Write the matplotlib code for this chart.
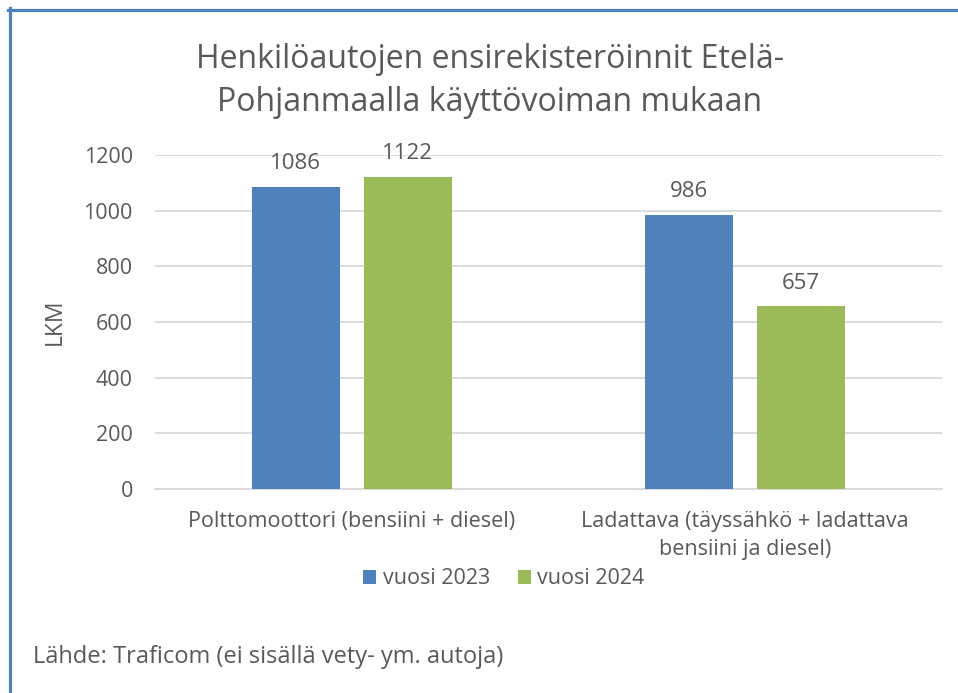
import matplotlib.pyplot as plt
import matplotlib.lines as mlines
import numpy as np

# --- data ---
categories = ['Polttomoottori (bensiini + diesel)',
              'Ladattava (täyssähkö + ladattava\nbensiini ja diesel)']
series_names = ['vuosi 2023', 'vuosi 2024']
vals_2023 = [1086, 986]
vals_2024 = [1122, 657]
yticks = [0, 200, 400, 600, 800, 1000, 1200]

BLUE = '#4F81BD'
GREEN = '#9BBB59'
GREY = '#595959'
FONT = 'Open Sans'

plt.rcParams['font.family'] = [FONT, 'DejaVu Sans']

fig = plt.figure(figsize=(9.58, 6.93), dpi=100)
ax = fig.add_axes([0.1618, 0.2944, 0.8215, 0.4819])

x = np.arange(len(categories))
w = 0.224
off = 0.142
b1 = ax.bar(x - off, vals_2023, w, color=BLUE, label=series_names[0], zorder=3)
b2 = ax.bar(x + off, vals_2024, w, color=GREEN, label=series_names[1], zorder=3)

for bars in (b1, b2):
    ax.bar_label(bars, padding=9, fontsize=16, color=GREY)

ax.set_xlim(-0.5, 1.5)
ax.set_ylim(0, 1200)
ax.set_yticks(yticks)
ax.set_xticks(x)
ax.set_xticklabels(categories, fontsize=15.5, color=GREY, linespacing=1.45)
ax.tick_params(axis='both', length=0, labelsize=15.5, colors=GREY)
ax.tick_params(axis='y', pad=16)
ax.tick_params(axis='x', pad=16)
ax.yaxis.grid(True, color='#D9D9D9', linewidth=1.3, zorder=0)
for s in ['top', 'right', 'left']:
    ax.spines[s].set_visible(False)
ax.spines['bottom'].set_color('#D9D9D9')
ax.spines['bottom'].set_linewidth(1.3)
ax.set_ylabel('LKM', fontsize=16.5, color=GREY, labelpad=12)

fig.text(0.511, 0.883, 'Henkilöautojen ensirekisteröinnit Etelä-\nPohjanmaalla käyttövoiman mukaan',
         ha='center', va='center', fontsize=23, color=GREY, linespacing=1.38)

ax.legend(loc='center', bbox_to_anchor=(0.526, 1 - 579 / 693), bbox_transform=fig.transFigure,
          ncol=2, frameon=False, fontsize=15.5, labelcolor=GREY,
          handlelength=0.6, handleheight=0.6, handletextpad=0.3, columnspacing=1.3)

fig.text(33 / 958, 1 - 657 / 693, 'Lähde: Traficom (ei sisällä vety- ym. autoja)',
         ha='left', va='center', fontsize=17, color=GREY)

# frame lines at top and left
fig.add_artist(mlines.Line2D([8 / 958, 1], [1 - 9.5 / 693] * 2, color=BLUE, linewidth=2.3,
                             transform=fig.transFigure))
fig.add_artist(mlines.Line2D([9.5 / 958] * 2, [0, 1 - 8 / 693], color=BLUE, linewidth=2.3,
                             transform=fig.transFigure))

fig.savefig('out.png', dpi=100)
